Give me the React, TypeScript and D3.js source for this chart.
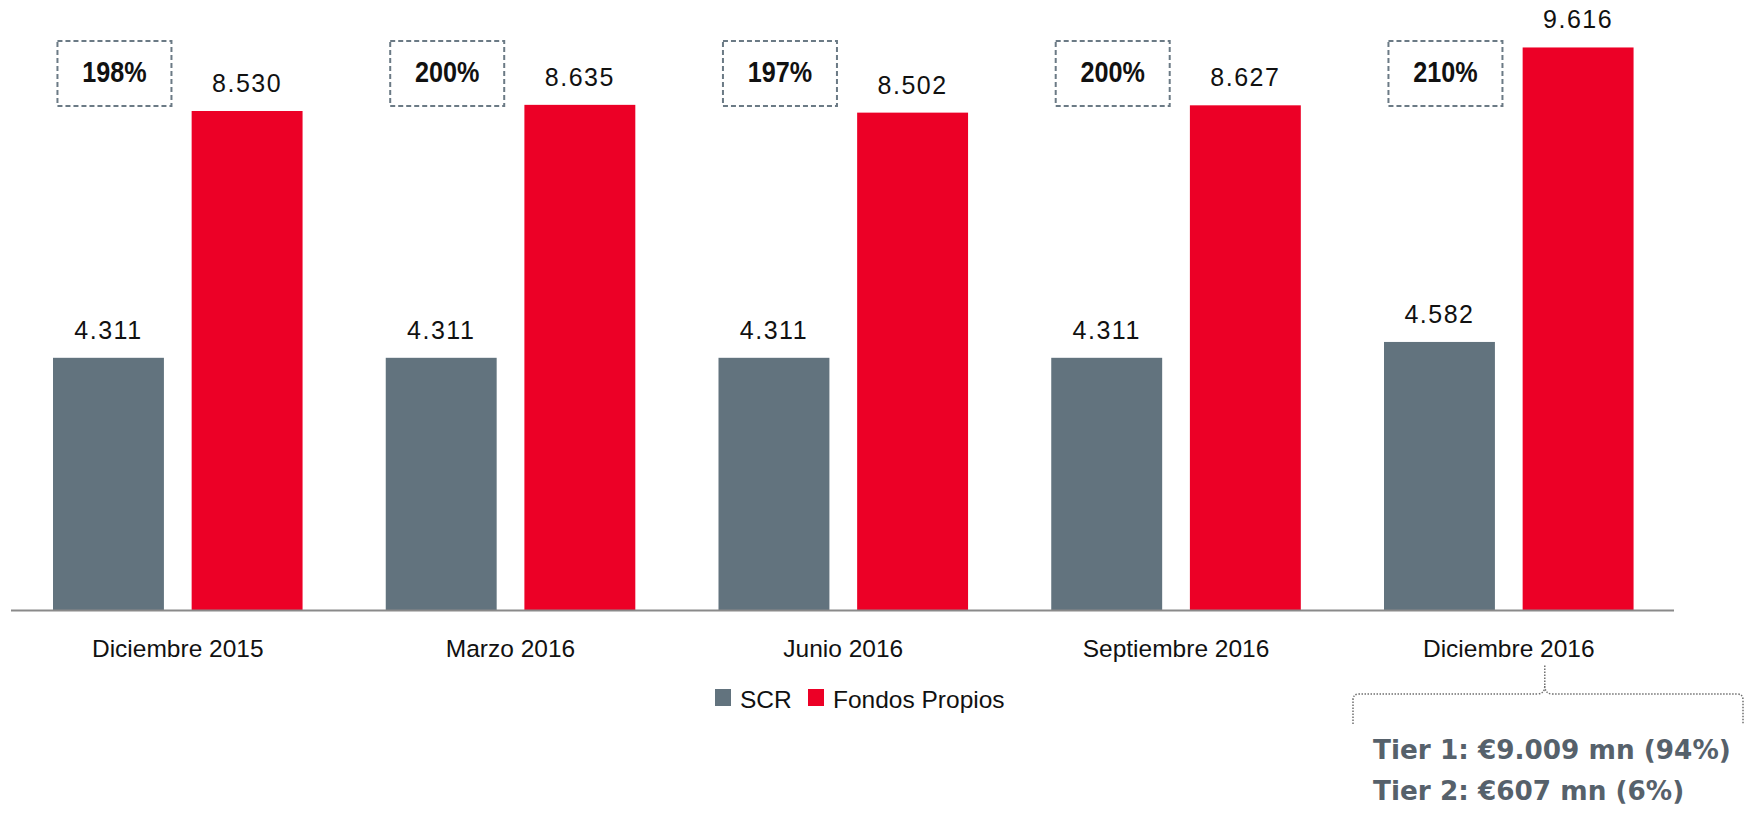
import React from 'react'
import * as d3 from 'd3'

const categories = ['Diciembre 2015', 'Marzo 2016', 'Junio 2016', 'Septiembre 2016', 'Diciembre 2016']
const seriesNames = ['SCR', 'Fondos Propios']
const scrValues = [4311, 4311, 4311, 4311, 4582]
const fondosValues = [8530, 8635, 8502, 8627, 9616]
const ratioLabels = ['198%', '200%', '197%', '200%', '210%']
const tierLines = ['Tier 1: €9.009 mn (94%)', 'Tier 2: €607 mn (6%)']

const width = 1755
const height = 816
const baseY = 610
const colors = ['#62737e', '#ec0026']
const font = "'Liberation Sans', Arial, sans-serif"

const esFormat = d3.formatLocale({ decimal: ',', thousands: '.', grouping: [3], currency: ['€', ''] }).format(',d')

const xScale = d3
  .scaleBand<string>()
  .domain(categories)
  .range([53, 53 + 332.75 * 4.75])
  .paddingInner(0.25)
  .paddingOuter(0)

const innerScale = d3
  .scaleBand<string>()
  .domain(seriesNames)
  .range([0, xScale.bandwidth()])
  .paddingInner(0.2)

const yScale = d3.scaleLinear().domain([0, 10000]).range([baseY, baseY - 585])

const rows = categories.map((c, i) => ({
  category: c,
  values: [scrValues[i], fondosValues[i]],
  ratio: ratioLabels[i],
}))

function Bars() {
  return (
    <g>
      {rows.map(row => (
        <g key={row.category} transform={`translate(${xScale(row.category)},0)`}>
          {row.values.map((v, j) => {
            const x = innerScale(seriesNames[j]) as number
            return (
              <g key={j}>
                <rect x={x} y={yScale(v)} width={innerScale.bandwidth()} height={baseY - yScale(v)} fill={colors[j]} />
                <text
                  x={x + innerScale.bandwidth() / 2}
                  y={yScale(v) - 19}
                  textAnchor="middle"
                  fontFamily={font}
                  fontSize={25}
                  letterSpacing={1.5}
                  fill="#111"
                >
                  {esFormat(v)}
                </text>
              </g>
            )
          })}
        </g>
      ))}
    </g>
  )
}

function RatioBoxes() {
  const boxW = 114
  const boxH = 65
  return (
    <g>
      {rows.map(row => {
        const cx = (xScale(row.category) as number) + (innerScale('SCR') as number) + innerScale.bandwidth() / 2 + 6
        return (
          <g key={row.category}>
            <rect
              x={cx - boxW / 2}
              y={41}
              width={boxW}
              height={boxH}
              fill="none"
              stroke="#6b7a85"
              strokeWidth={2}
              strokeDasharray="5,3"
            />
            <text
              transform={`translate(${cx},82) scale(0.84,1)`}
              textAnchor="middle"
              fontFamily={font}
              fontWeight="bold"
              fontSize={30}
              fill="#111"
            >
              {row.ratio}
            </text>
          </g>
        )
      })}
    </g>
  )
}

function XAxis() {
  return (
    <g>
      <line x1={11} x2={1674} y1={baseY + 0.5} y2={baseY + 0.5} stroke="#8a8a8a" strokeWidth={2} />
      {categories.map(c => (
        <text
          key={c}
          x={(xScale(c) as number) + xScale.bandwidth() / 2}
          y={657}
          textAnchor="middle"
          fontFamily={font}
          fontSize={24.5}
          fill="#111"
        >
          {c}
        </text>
      ))}
    </g>
  )
}

function Legend() {
  const items = [
    { name: seriesNames[0], x: 715, color: colors[0] },
    { name: seriesNames[1], x: 808, color: colors[1] },
  ]
  return (
    <g>
      {items.map(it => (
        <g key={it.name}>
          <rect x={it.x} y={689} width={16} height={17} fill={it.color} />
          <text x={it.x + 25} y={708} fontFamily={font} fontSize={24.5} fill="#111">
            {it.name}
          </text>
        </g>
      ))}
    </g>
  )
}

function TierNote() {
  const last = categories[categories.length - 1]
  const tip = (xScale(last) as number) + xScale.bandwidth() / 2 + 36
  const left = 1353
  const right = 1743
  const top = 694
  const path =
    `M${left},724 V${top + 6} Q${left},${top} ${left + 6},${top} H${tip - 8} Q${tip},${top} ${tip},${top - 8} V664 ` +
    `M${tip},${top - 8} Q${tip},${top} ${tip + 8},${top} H${right - 6} Q${right},${top} ${right},${top + 6} V724`
  return (
    <g>
      <path d={path} fill="none" stroke="#6f6f6f" strokeWidth={1.5} strokeDasharray="1.5,1.5" />
      {tierLines.map((t, i) => (
        <text
          key={t}
          x={1373}
          y={759 + i * 41}
          fontFamily="'DejaVu Sans', sans-serif"
          fontWeight="bold"
          fontSize={26.3}
          fill="#56616b"
        >
          {t}
        </text>
      ))}
    </g>
  )
}

export default function App() {
  return (
    <svg
      width={width}
      height={height}
      style={{ position: 'absolute', left: 0, top: 0, display: 'block', background: '#fff' }}
    >
      <Bars />
      <RatioBoxes />
      <XAxis />
      <Legend />
      <TierNote />
    </svg>
  )
}
